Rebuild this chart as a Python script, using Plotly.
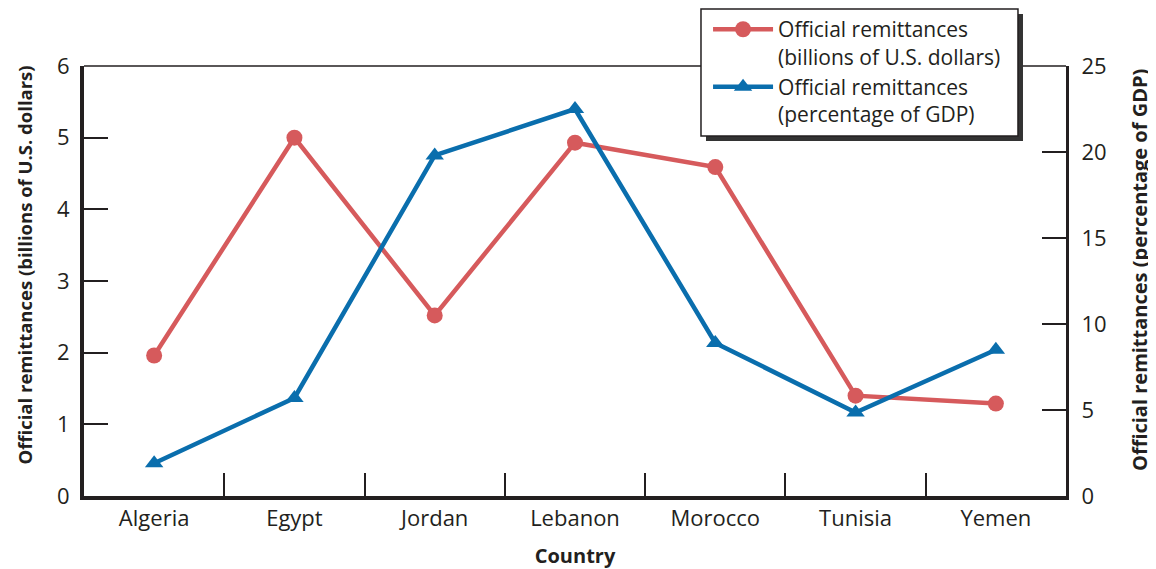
import plotly.graph_objects as go

countries = ["Algeria", "Egypt", "Jordan", "Lebanon", "Morocco", "Tunisia", "Yemen"]
remit_billions = [1.96, 5.0, 2.52, 4.93, 4.59, 1.40, 1.29]
remit_pct_gdp = [1.9, 5.7, 19.8, 22.5, 8.9, 4.85, 8.5]

left_ticks = [0, 1, 2, 3, 4, 5, 6]
right_ticks = [0, 5, 10, 15, 20, 25]

RED = "#d65a5c"
BLUE = "#0a6ead"
INK = "#231f20"
FONT = "Open Sans"

fig = go.Figure()
fig.add_trace(go.Scatter(
    x=countries, y=remit_billions, mode="lines+markers",
    name="Official remittances<br>(billions of U.S. dollars)",
    line=dict(color=RED, width=4.5),
    marker=dict(symbol="circle", size=16, color=RED),
    yaxis="y", cliponaxis=False,
))
fig.add_trace(go.Scatter(
    x=countries, y=remit_pct_gdp, mode="lines+markers",
    name="Official remittances<br>(percentage of GDP)",
    line=dict(color=BLUE, width=4.5),
    marker=dict(symbol="triangle-up", size=16, color=BLUE),
    yaxis="y2", cliponaxis=False,
))

fig.update_layout(
    width=1148, height=561,
    margin=dict(l=76, r=90, t=58, b=73, autoexpand=False),
    paper_bgcolor="white", plot_bgcolor="white",
    font=dict(family=FONT, size=21, color=INK),
    showlegend=True,
    legend=dict(
        xref="container", yref="container",
        x=0.6098, y=0.998, xanchor="left", yanchor="top",
        bgcolor="rgba(0,0,0,0)", borderwidth=0,
        font=dict(family=FONT, size=21, color=INK),
        valign="top", tracegroupgap=2, itemwidth=60,
    ),
    xaxis=dict(
        type="category", range=[-0.5, 6.5], automargin=True,
        showline=True, linecolor=INK, linewidth=4,
        ticks="inside", tickson="boundaries", ticklen=23, tickwidth=1.5, tickcolor=INK,
        showgrid=False, zeroline=False,
        tickfont=dict(family=FONT, size=22, color=INK),
        title=dict(text="<b>Country</b>", font=dict(family=FONT, size=20, color=INK), standoff=20),
    ),
    yaxis=dict(
        range=[0, 6], tickvals=left_ticks, automargin=False,
        showline=True, linecolor=INK, linewidth=4,
        ticks="inside", ticklen=24, tickwidth=1.5, tickcolor=INK,
        showgrid=False, zeroline=False, ticklabelstandoff=6,
        tickfont=dict(family=FONT, size=22, color=INK),
    ),
    yaxis2=dict(
        range=[0, 25], tickvals=right_ticks, overlaying="y", side="right", automargin=False,
        showline=True, linecolor=INK, linewidth=3,
        ticks="inside", ticklen=24, tickwidth=1.5, tickcolor=INK,
        showgrid=False, zeroline=False, ticklabelstandoff=8,
        tickfont=dict(family=FONT, size=22, color=INK),
    ),
    annotations=[
        dict(text="<b>Official remittances (billions of U.S. dollars)</b>", xref="paper", yref="paper",
             x=-0.0611, y=0.5384, xanchor="center", yanchor="middle", textangle=-90, showarrow=False,
             font=dict(family=FONT, size=18.5, color=INK)),
        dict(text="<b>Official remittances (percentage of GDP)</b>", xref="paper", yref="paper",
             x=1.0754, y=0.5256, xanchor="center", yanchor="middle", textangle=-90, showarrow=False,
             font=dict(family=FONT, size=20, color=INK)),
    ],
    shapes=[
        dict(type="line", xref="paper", yref="paper", x0=0, x1=1, y0=1, y1=1,
             line=dict(color=INK, width=1.5), layer="above"),
        # legend box shadow and frame
        dict(type="rect", xref="paper", yref="paper", x0=0.6334, x1=0.9562, y0=0.8256, y1=1.121,
             fillcolor="#333333", line=dict(width=0), layer="above"),
        dict(type="rect", xref="paper", yref="paper", x0=0.6283, x1=0.9511, y0=0.8372, y1=1.1326,
             fillcolor="white", line=dict(color=INK, width=1.5), layer="above"),
    ],
)

fig.write_html("out.html")
